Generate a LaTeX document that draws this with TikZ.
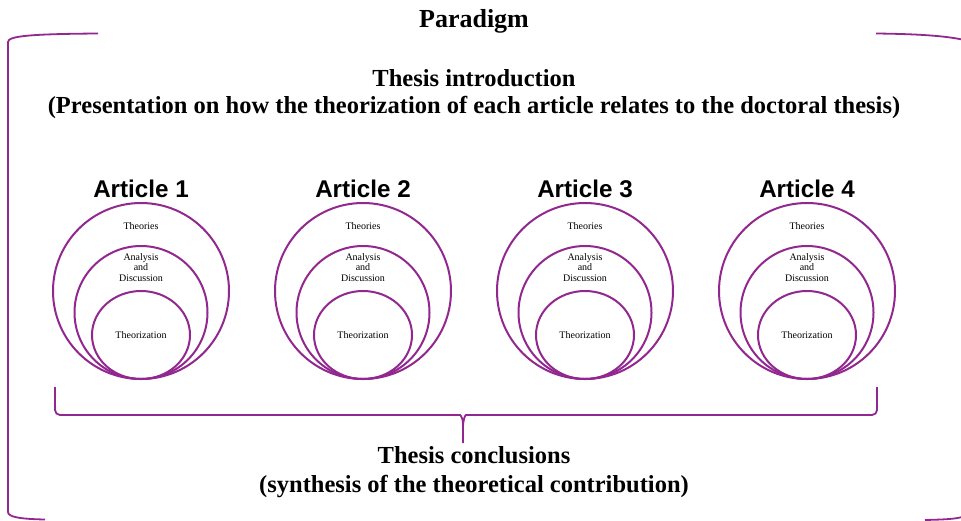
\documentclass[tikz,border=0pt]{standalone}
\usepackage{fontspec}
\setmainfont{Liberation Serif}
\setsansfont{Liberation Sans}
\usetikzlibrary{positioning,shapes.geometric}
\definecolor{plum}{RGB}{146,39,143}
\tikzstyle{theories} = [circle,draw=plum,line width=2,minimum size=176,inner sep=0,outer sep=0,anchor=south]
\tikzstyle{discussion} = [circle,draw=plum,line width=2,minimum size=133,inner sep=0,outer sep=0,anchor=south]
\tikzstyle{theorization} = [ellipse,draw=plum,line width=2,minimum width=98,minimum height=88,inner sep=0,outer sep=0,anchor=south]
\tikzstyle{art} = [font=\sffamily\bfseries\fontsize{24.2}{24}\selectfont,inner sep=0]
\tikzstyle{small} = [font=\fontsize{10}{10.5}\selectfont,align=center,inner sep=0]
\tikzstyle{head} = [font=\bfseries\fontsize{24.5}{28}\selectfont,inner sep=0,anchor=base]
\tikzstyle{frame} = [draw=plum,line width=1.8]

\begin{document}
\begin{tikzpicture}[x=1pt,y=-1pt]
	\useasboundingbox (0,0) rectangle (961,520);
	% outer frame
	\draw[frame] (98,33.5) .. controls (30,34) and (8,36) .. (8,42) -- (8,512) .. controls (8,517) and (20,519) .. (45,519.5);
	\draw[frame] (876,33.5) .. controls (920,34) and (945,36) .. (962,39.5);
	\draw[frame] (925,520) .. controls (945,519.5) and (955,519) .. (962,517);

	\node[head,font=\bfseries\fontsize{26}{28}\selectfont] (paradigm) at (474,27) {Paradigm};
	\node[head] (intro) at (474,86) {Thesis introduction};
	\node[head] (present) at (474,113) {(Presentation on how the theorization of each article relates to the doctoral thesis)};

	% article 1
	\node[theories] (theo1) at (141,379) {};
	\node[discussion] (disc1) at (theo1.south) {};
	\node[theorization] (theor1) at (theo1.south) {};
	\node[art] (art1) [above=5pt of theo1.north] {Article 1};
	\node[small] (theotxt1) [below=19pt of theo1.north] {Theories};
	\node[small] (disctxt1) [below=7pt of disc1.north] {Analysis\\and\\Discussion};
	\node[small] (theortxt1) at (theor1.center) {Theorization};

	% article 2
	\node[theories] (theo2) at (363,379) {};
	\node[discussion] (disc2) at (theo2.south) {};
	\node[theorization] (theor2) at (theo2.south) {};
	\node[art] (art2) [above=5pt of theo2.north] {Article 2};
	\node[small] (theotxt2) [below=19pt of theo2.north] {Theories};
	\node[small] (disctxt2) [below=7pt of disc2.north] {Analysis\\and\\Discussion};
	\node[small] (theortxt2) at (theor2.center) {Theorization};

	% article 3
	\node[theories] (theo3) at (585,379) {};
	\node[discussion] (disc3) at (theo3.south) {};
	\node[theorization] (theor3) at (theo3.south) {};
	\node[art] (art3) [above=5pt of theo3.north] {Article 3};
	\node[small] (theotxt3) [below=19pt of theo3.north] {Theories};
	\node[small] (disctxt3) [below=7pt of disc3.north] {Analysis\\and\\Discussion};
	\node[small] (theortxt3) at (theor3.center) {Theorization};

	% article 4
	\node[theories] (theo4) at (807,379) {};
	\node[discussion] (disc4) at (theo4.south) {};
	\node[theorization] (theor4) at (theo4.south) {};
	\node[art] (art4) [above=5pt of theo4.north] {Article 4};
	\node[small] (theotxt4) [below=19pt of theo4.north] {Theories};
	\node[small] (disctxt4) [below=7pt of disc4.north] {Analysis\\and\\Discussion};
	\node[small] (theortxt4) at (theor4.center) {Theorization};

	% brace under the articles
	\coordinate (braceL) at (55,387);
	\coordinate (braceR) at (877,387);
	\coordinate (braceTip) at (463,443);
	\draw[frame,rounded corners=5] (braceL) |- (455,415) .. controls (461,415) and (463,420) .. (463,428) -- (braceTip);
	\draw[frame,rounded corners=5] (braceR) |- (471,415) .. controls (465,415) and (463,420) .. (463,428);

	\node[head] (concl) at (474,463) {Thesis conclusions};
	\node[head] (synth) at (474,492) {(synthesis of the theoretical contribution)};
\end{tikzpicture}
\end{document}
